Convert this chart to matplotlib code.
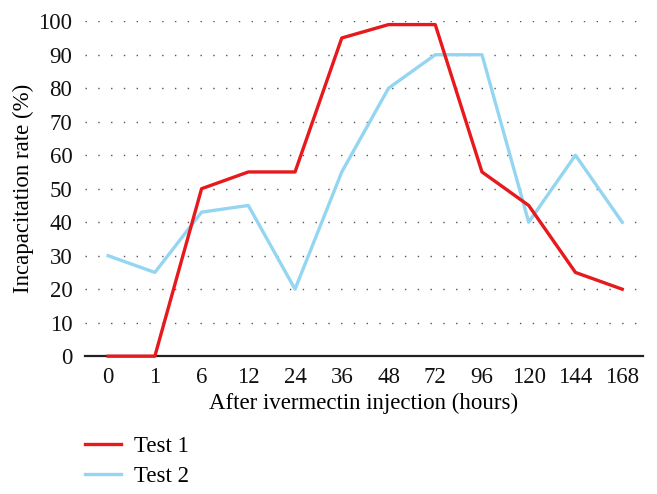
import matplotlib
matplotlib.use("Agg")
import matplotlib.pyplot as plt

hours = ["0", "1", "6", "12", "24", "36", "48", "72", "96", "120", "144", "168"]
test1 = [0, 0, 50, 55, 55, 95, 99, 99, 55, 45, 25, 20]
test2 = [30, 25, 43, 45, 20, 55, 80, 90, 90, 40, 60, 40]
yticks = [0, 10, 20, 30, 40, 50, 60, 70, 80, 90, 100]

plt.rcParams['font.family'] = ['Liberation Serif', 'DejaVu Serif']

fig = plt.figure(figsize=(6.57, 4.94), dpi=100)
ax = fig.add_axes([0.129, 0.279, 0.850, 0.678])

x = list(range(len(hours)))
red = '#e8191c'
blue = '#94d6f2'
l1, = ax.plot(x, test1, color=red, lw=2.4, label='Test 1', zorder=3, clip_on=False)
l2, = ax.plot(x, test2, color=blue, lw=2.4, label='Test 2', zorder=2, clip_on=False)

ax.set_xlim(-0.5, 11.45)
ax.set_ylim(0, 100)
ax.set_xticks(x)
ax.set_xticklabels(hours)
ax.set_yticks(yticks)
for yv in yticks[1:]:
    ax.axhline(yv, color='#555555', lw=1.0, ls=(0, (1, 8.2)), zorder=1)
for s in ['left', 'right', 'top']:
    ax.spines[s].set_visible(False)
ax.spines['bottom'].set_color('#222222')
ax.spines['bottom'].set_linewidth(1.6)
ax.tick_params(axis='both', length=0, labelsize=16.5, colors='#111111')
ax.tick_params(axis='x', pad=8)
ax.tick_params(axis='y', pad=9)
ax.set_xlabel('After ivermectin injection (hours)', fontsize=16.5, labelpad=3)
ax.set_ylabel('Incapacitation rate (%)', fontsize=16.5, labelpad=3)

fig.legend(handles=[l1, l2], loc='upper left', bbox_to_anchor=(0.116, 0.137),
           frameon=False, fontsize=16.5, handlelength=1.55, handletextpad=0.55,
           labelspacing=0.42, borderaxespad=0)

fig.savefig('out.png', dpi=100)
